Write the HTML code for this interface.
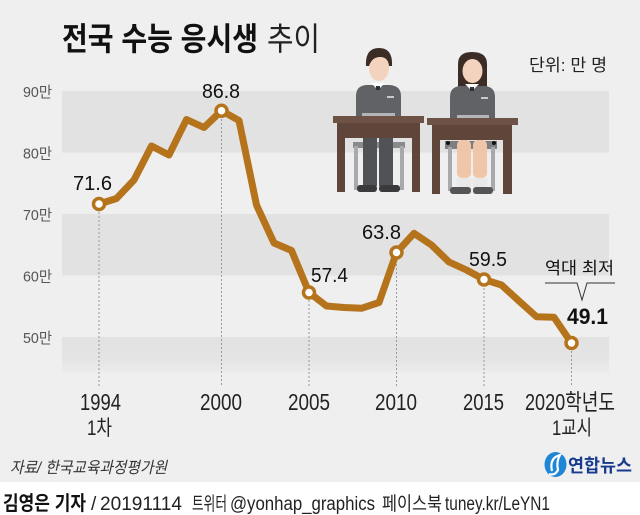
<!DOCTYPE html>
<html><head><meta charset="utf-8"><style>
html,body{margin:0;padding:0;background:#efeff0;}
svg{display:block;}
text{font-family:"Liberation Sans","Noto Sans CJK KR",sans-serif;}
</style></head><body>
<svg width="640" height="515" viewBox="0 0 640 515" xmlns="http://www.w3.org/2000/svg">
<defs>
<linearGradient id="bb" x1="0" y1="0" x2="0" y2="1">
<stop offset="0" stop-color="#e2e2e3"/><stop offset="0.6" stop-color="#e4e4e5"/><stop offset="1" stop-color="#ececed"/>
</linearGradient>
</defs>
<rect x="0" y="0" width="640" height="482" fill="#efeff0"/>
<rect x="0" y="482" width="640" height="33" fill="#ffffff"/>
<!-- bands -->
<rect x="62" y="91" width="547" height="61.5" fill="#e2e2e3"/>
<rect x="62" y="214" width="547" height="61.5" fill="#e2e2e3"/>
<rect x="62" y="337" width="547" height="36" fill="url(#bb)"/>
<!-- title -->
<text x="62" y="50" font-size="32" font-weight="bold" fill="#111" textLength="196" lengthAdjust="spacingAndGlyphs">전국 수능 응시생</text>
<text x="267" y="50" font-size="32" fill="#222" textLength="53" lengthAdjust="spacingAndGlyphs">추이</text>
<text x="529" y="71" font-size="17" fill="#222" textLength="78" lengthAdjust="spacingAndGlyphs">단위: 만 명</text>
<!-- axis labels -->
<g font-size="15" fill="#555">
<text x="23" y="97" textLength="29" lengthAdjust="spacingAndGlyphs">90만</text>
<text x="23" y="158.5" textLength="29" lengthAdjust="spacingAndGlyphs">80만</text>
<text x="23" y="220" textLength="29" lengthAdjust="spacingAndGlyphs">70만</text>
<text x="23" y="281.5" textLength="29" lengthAdjust="spacingAndGlyphs">60만</text>
<text x="23" y="343" textLength="29" lengthAdjust="spacingAndGlyphs">50만</text>
</g>
<!-- students -->
<g>
<!-- boy -->
<rect x="353" y="142" width="52" height="6" fill="#8a8a8d"/>
<rect x="354" y="146" width="4" height="44" fill="#a9a9ab"/>
<rect x="400" y="146" width="4" height="44" fill="#a9a9ab"/>
<rect x="363" y="123" width="14" height="63" fill="#515256"/>
<rect x="379" y="123" width="14" height="63" fill="#515256"/>
<rect x="357" y="185" width="20" height="7" rx="3" fill="#3a3a3c"/>
<rect x="379" y="185" width="21" height="7" rx="3" fill="#3a3a3c"/>
<path d="M356 117 L356 96 Q356 86 366 85 L390 85 Q401 86 401 96 L401 117 Z" fill="#616266"/>
<path d="M371 83 L378 90 L385 83 Z" fill="#ffffff"/>
<rect x="376" y="86" width="4" height="4" fill="#2d2f3a"/>
<rect x="387" y="96" width="7" height="2" fill="#c9c9cc"/>
<ellipse cx="379" cy="68" rx="10" ry="13" fill="#f3d3bd"/>
<path d="M366 66 Q365 48 379 48 Q393 48 392 66 L389 66 Q388 57 380 57 Q372 57 369 66 Z" fill="#3b2d26"/>
<rect x="362" y="113" width="33" height="4" fill="#b5b5b8"/>
<rect x="333" y="116" width="91" height="7" fill="#6e5246"/>
<rect x="337" y="123" width="83" height="15" fill="#5f453a"/>
<rect x="337" y="123" width="8" height="69" fill="#5f453a"/>
<rect x="412" y="123" width="8" height="69" fill="#5f453a"/>
<!-- girl -->
<rect x="445" y="141" width="52" height="8" fill="#7f7f82"/>
<rect x="448" y="147" width="4" height="44" fill="#a9a9ab"/>
<rect x="491" y="147" width="4" height="44" fill="#a9a9ab"/>
<circle cx="448" cy="143" r="2" fill="#111"/>
<circle cx="494" cy="143" r="2" fill="#111"/>
<rect x="457" y="140" width="14" height="38" rx="5" fill="#efc7a8"/>
<rect x="473" y="140" width="14" height="38" rx="5" fill="#efc7a8"/>
<rect x="457" y="178" width="14" height="9" fill="#e8e8e8"/>
<rect x="473" y="178" width="14" height="9" fill="#e8e8e8"/>
<rect x="450" y="187" width="21" height="7" rx="3" fill="#555558"/>
<rect x="473" y="187" width="20" height="7" rx="3" fill="#555558"/>
<path d="M458 88 L458 64 Q458 52 472 52 Q487 52 487 64 L487 88 Z" fill="#3b2d26"/>
<path d="M450 119 L450 97 Q450 87 460 86 L485 86 Q495 87 495 97 L495 119 Z" fill="#616266"/>
<path d="M465 84 L472 91 L479 84 Z" fill="#ffffff"/>
<rect x="470" y="87" width="4" height="4" fill="#2d2f3a"/>
<rect x="481" y="97" width="7" height="2" fill="#c9c9cc"/>
<ellipse cx="472.5" cy="71" rx="10" ry="12" fill="#f3d3bd"/>
<path d="M461 68 Q462 57 472 57 Q482 57 484 68 L486 60 Q482 53 472 53 Q462 53 459 60 Z" fill="#3b2d26"/>
<rect x="457" y="115" width="32" height="4" fill="#b5b5b8"/>
<rect x="427" y="118" width="91" height="7" fill="#6e5246"/>
<rect x="432" y="125" width="80" height="15" fill="#5f453a"/>
<rect x="432" y="125" width="8" height="69" fill="#5f453a"/>
<rect x="503" y="125" width="9" height="69" fill="#5f453a"/>
</g>
<!-- dotted lines -->
<g stroke="#9a9a9a" stroke-width="1" stroke-dasharray="2,2">
<line x1="99" y1="204" x2="99" y2="387"/>
<line x1="221.5" y1="111" x2="221.5" y2="387"/>
<line x1="309" y1="292" x2="309" y2="387"/>
<line x1="396.5" y1="252" x2="396.5" y2="387"/>
<line x1="484" y1="280" x2="484" y2="387"/>
<line x1="571.5" y1="343" x2="571.5" y2="387"/>
</g>
<!-- series -->
<polyline fill="none" stroke="#b5741c" stroke-width="7" stroke-linejoin="round" stroke-linecap="round"
points="99,204 116.5,198.5 134,180 151.5,146 169,155 186.5,119.5 204,127.5 221.5,110.7 239,120.5 256.5,205 274,243 291.5,250.5 309,292.5 326.5,306 344,307.5 361.5,308.3 379,302.5 396.5,252.5 414,233.3 431.5,245 449,262 466.5,270 484,279.5 501.5,285 519,301 536.5,316.7 554,317.3 571.5,343"/>
<g fill="#ffffff" stroke="#b5741c" stroke-width="3.5">
<circle cx="99" cy="204" r="5.5"/>
<circle cx="221.5" cy="110.7" r="5.5"/>
<circle cx="309" cy="292.5" r="5.5"/>
<circle cx="396.5" cy="252.5" r="5.5"/>
<circle cx="484" cy="279.5" r="5.5"/>
<circle cx="571.5" cy="343" r="5.5"/>
</g>
<!-- data labels -->
<g font-size="20" fill="#111">
<text x="73" y="190" textLength="39" lengthAdjust="spacingAndGlyphs">71.6</text>
<text x="202" y="98" textLength="38" lengthAdjust="spacingAndGlyphs">86.8</text>
<text x="311" y="282" textLength="37" lengthAdjust="spacingAndGlyphs">57.4</text>
<text x="362" y="239" textLength="39" lengthAdjust="spacingAndGlyphs">63.8</text>
<text x="469" y="266" textLength="38" lengthAdjust="spacingAndGlyphs">59.5</text>
</g>
<text x="545" y="274" font-size="17" fill="#111" textLength="69" lengthAdjust="spacingAndGlyphs">역대 최저</text>
<path d="M545 283 L577 283 L582 300 L587 283 L615 283" fill="none" stroke="#333" stroke-width="1"/>
<text x="567" y="324" font-size="22" font-weight="bold" fill="#111" textLength="41" lengthAdjust="spacingAndGlyphs">49.1</text>
<!-- year labels -->
<g font-size="23" fill="#222">
<text x="80" y="410" textLength="41" lengthAdjust="spacingAndGlyphs">1994</text>
<text x="87" y="435" font-size="21" textLength="25" lengthAdjust="spacingAndGlyphs">1차</text>
<text x="200" y="410" textLength="42" lengthAdjust="spacingAndGlyphs">2000</text>
<text x="288" y="410" textLength="42" lengthAdjust="spacingAndGlyphs">2005</text>
<text x="375" y="410" textLength="42" lengthAdjust="spacingAndGlyphs">2010</text>
<text x="463" y="410" textLength="41" lengthAdjust="spacingAndGlyphs">2015</text>
<text x="525" y="410" textLength="90" lengthAdjust="spacingAndGlyphs">2020학년도</text>
<text x="552" y="435" font-size="21" textLength="40" lengthAdjust="spacingAndGlyphs">1교시</text>
</g>
<text x="10" y="473" font-size="16" font-style="italic" fill="#333" textLength="157" lengthAdjust="spacingAndGlyphs">자료/ 한국교육과정평가원</text>
<!-- yonhap logo -->
<ellipse cx="555.5" cy="464.5" rx="11" ry="12.5" fill="#1f86d6"/>
<path d="M552 471 Q549 458 560 455 Q556 462 558 470 Q555 476 549 474" fill="none" stroke="#ffffff" stroke-width="2.2"/>
<text x="568" y="472" font-size="18" font-weight="bold" fill="#173a8c" textLength="64" lengthAdjust="spacingAndGlyphs">연합뉴스</text>
<!-- footer -->
<text x="3" y="510" font-size="20" font-weight="bold" fill="#111" textLength="83" lengthAdjust="spacingAndGlyphs">김영은 기자</text>
<g font-size="19" fill="#222">
<text x="91" y="510">/</text>
<text x="100" y="510" textLength="82" lengthAdjust="spacingAndGlyphs">20191114</text>
<text x="192" y="510" textLength="35" lengthAdjust="spacingAndGlyphs">트위터</text>
<text x="230" y="510" textLength="145" lengthAdjust="spacingAndGlyphs">@yonhap_graphics</text>
<text x="382" y="510" textLength="60" lengthAdjust="spacingAndGlyphs">페이스북</text>
<text x="445" y="510" textLength="105" lengthAdjust="spacingAndGlyphs">tuney.kr/LeYN1</text>
</g>
</svg>
</body></html>
